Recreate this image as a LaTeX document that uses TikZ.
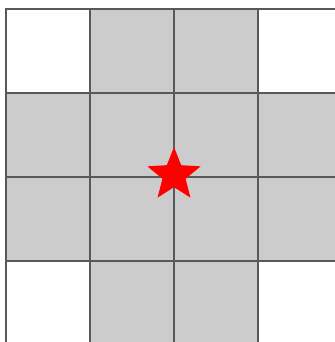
\documentclass[tikz,border=0pt]{standalone}
\usetikzlibrary{shapes.geometric}

\begin{document}
\begin{tikzpicture}[x=0.02cm,y=-0.02cm]
  \useasboundingbox (0,0) rectangle (335,342);
  \clip (0,0) rectangle (335,342);

  % 网格原点与格子边长
  \def\X{6}   \def\Y{9}
  \def\S{84}

  \foreach \i in {0,...,3}{
    \foreach \j in {0,...,3}{
      \pgfmathtruncatemacro{\a}{abs(2*\i-3)+abs(2*\j-3)}
      \pgfmathsetmacro{\x}{\X+\i*\S}
      \pgfmathsetmacro{\y}{\Y+\j*\S}
      \ifnum\a=6
        \filldraw[fill=white, draw=black!65, line width=0.9pt] (\x,\y) rectangle ++(\S,\S);
      \else
        \filldraw[fill=black!20, draw=black!65, line width=0.9pt] (\x,\y) rectangle ++(\S,\S);
      \fi
    }
  }

  % 中心的星
  \node[star, star points=5, star point ratio=2.3, fill=red, inner sep=0pt,
        minimum size=1.12cm] (goal) at (174,175) {};
\end{tikzpicture}
\end{document}
